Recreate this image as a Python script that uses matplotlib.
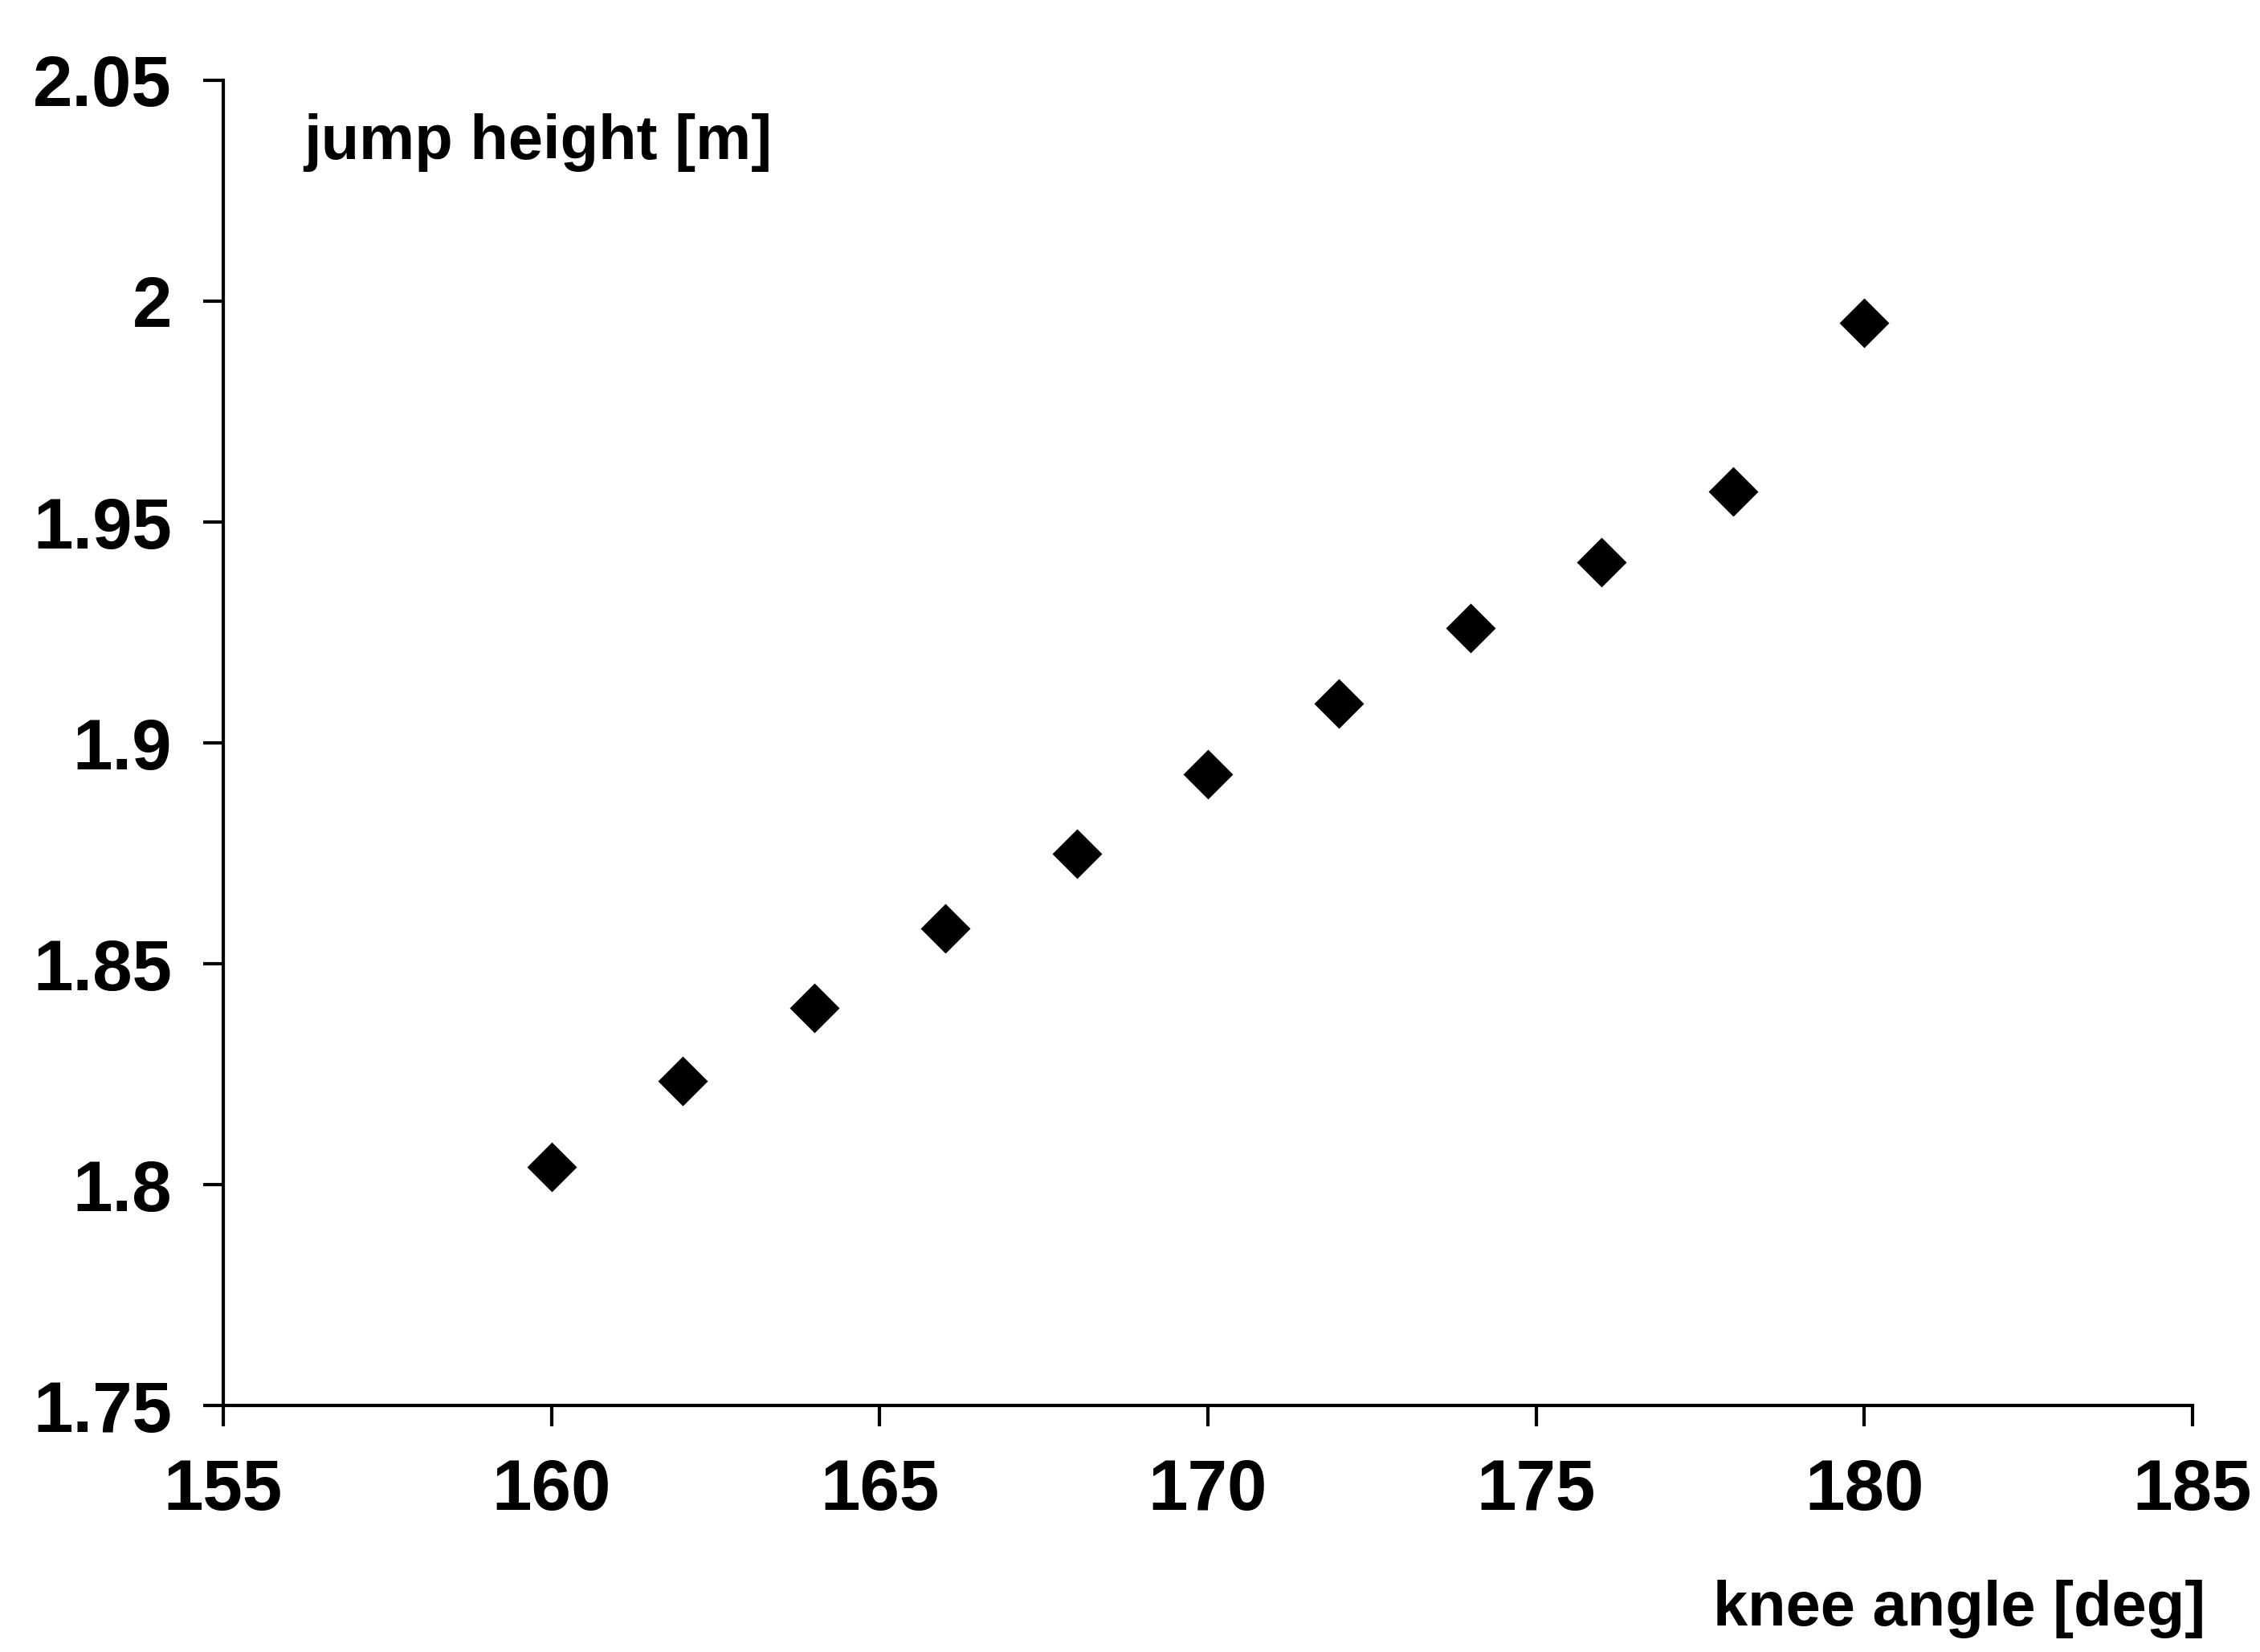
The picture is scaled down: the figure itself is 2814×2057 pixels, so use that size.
import matplotlib.pyplot as plt
from matplotlib.ticker import FixedLocator, FuncFormatter

plt.rcParams['font.family'] = ['Liberation Sans', 'DejaVu Sans']
plt.rcParams['font.weight'] = 'bold'

# knee angle vs jump height
knee_angle = [160, 162, 164, 166, 168, 170, 172, 174, 176, 178, 180]
jump_height = [1.804, 1.8235, 1.840, 1.858, 1.875, 1.893, 1.909, 1.926, 1.941, 1.957, 1.995]

x_ticks = [155, 160, 165, 170, 175, 180, 185]
y_ticks = [1.75, 1.8, 1.85, 1.9, 1.95, 2.0, 2.05]

fig = plt.figure(figsize=(14.07, 10.285), dpi=200)
ax = fig.add_axes([278 / 2814, 0.1492, (2730 - 278) / 2814, 0.8022])

ax.plot(knee_angle, jump_height, linestyle='none', marker='D',
        markersize=14.8, color='black')

ax.set_xlim(155, 185)
ax.set_ylim(1.75, 2.05)
ax.xaxis.set_major_locator(FixedLocator(x_ticks))
ax.yaxis.set_major_locator(FixedLocator(y_ticks))
ax.yaxis.set_major_formatter(FuncFormatter(lambda v, p: '%g' % v))

for s in ['top', 'right']:
    ax.spines[s].set_visible(False)
for s in ['left', 'bottom']:
    ax.spines[s].set_linewidth(1.5)
    ax.spines[s].set_color('black')

ax.tick_params(axis='x', direction='out', length=9.5, width=1.5, pad=14, labelsize=32)
ax.tick_params(axis='y', direction='out', length=9, width=1.5, pad=14, labelsize=32)

fig.text(378 / 2814, 1 - 198 / 2057, 'jump height [m]', fontsize=28,
         ha='left', va='baseline')
fig.text(2746 / 2814, 1 - 2024 / 2057, 'knee angle [deg]', fontsize=28,
         ha='right', va='baseline')

fig.savefig('out.png', dpi=200, facecolor='white')
